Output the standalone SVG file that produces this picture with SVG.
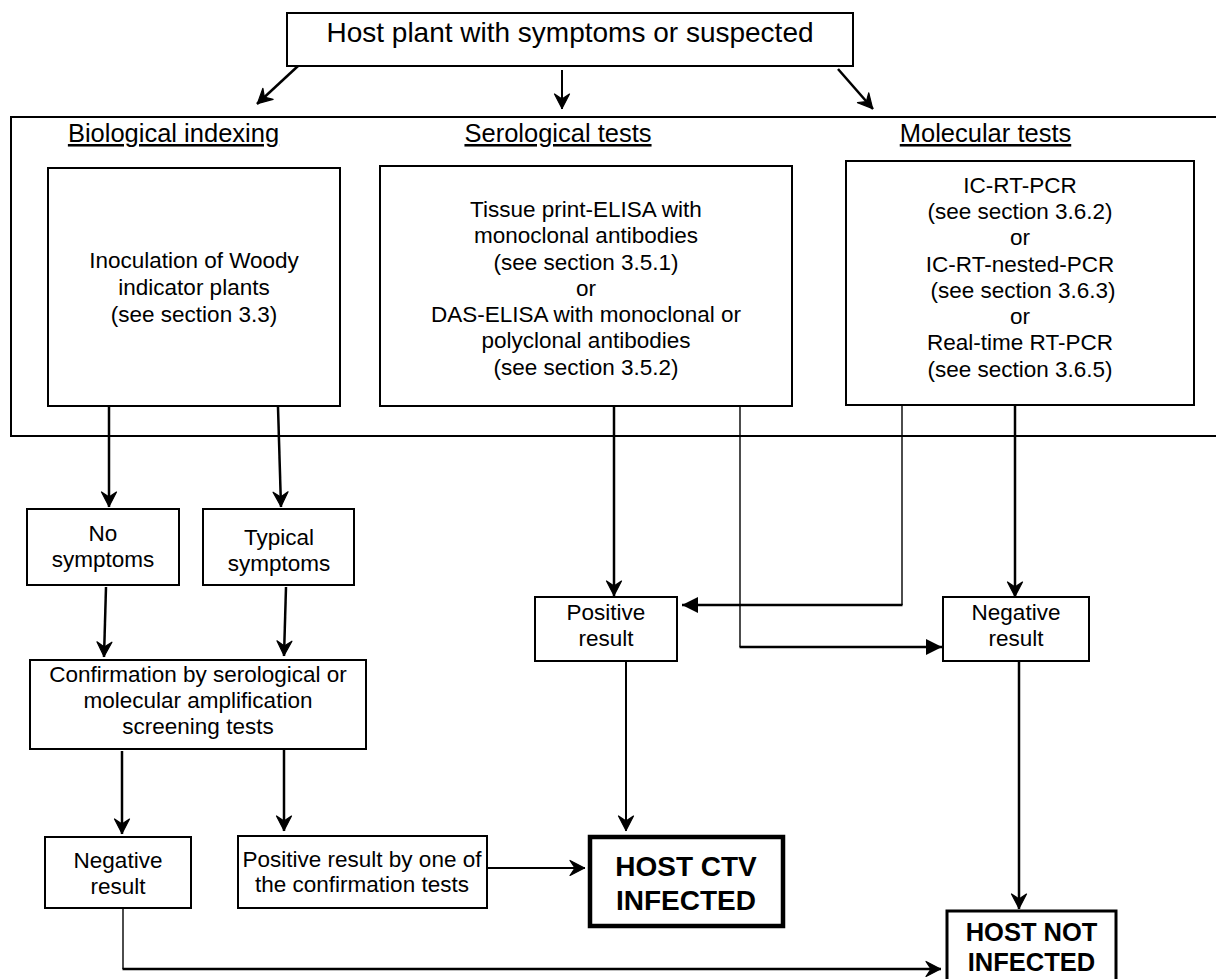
<svg xmlns="http://www.w3.org/2000/svg" width="1216" height="979" viewBox="0 0 1216 979">
<style>
.box{fill:#fff;stroke:#000;stroke-width:2}
.t{font-family:"Liberation Sans",Arial,sans-serif;font-size:22.5px;fill:#000;text-anchor:middle}
.h{font-family:"Liberation Sans",Arial,sans-serif;font-size:25.5px;fill:#000;text-anchor:middle;text-decoration:underline}
.b{font-family:"Liberation Sans",Arial,sans-serif;font-weight:bold;fill:#000;text-anchor:middle}
.c{fill:none;stroke:#000;stroke-width:2.5}
.thin{fill:none;stroke:#000;stroke-width:1.4}
.oa{marker-end:url(#open)}
.sa{marker-end:url(#solid)}
</style>
<defs>
<marker id="open" viewBox="-17 -9 19 18" refX="0" refY="0" markerWidth="19" markerHeight="18" markerUnits="userSpaceOnUse" orient="auto">
<path d="M-0.5,0 L-15,-7.5 L-10,0 L-15,7.5 Z" fill="#000" stroke="#000" stroke-width="1.2" stroke-linejoin="round"/>
</marker>
<marker id="solid" viewBox="-17 -9 18 18" refX="0" refY="0" markerWidth="18" markerHeight="18" markerUnits="userSpaceOnUse" orient="auto">
<path d="M0,0 L-16,-8 L-16,8 Z" fill="#000"/>
</marker>
</defs>
<rect width="1216" height="979" fill="#fff"/>

<g id="container">
<rect x="11" y="117" width="1225" height="319" fill="none" stroke="#000" stroke-width="2"/>
</g>

<g id="connectors">
<line class="c oa" x1="298" y1="66" x2="257" y2="104"/>
<line class="c oa" x1="562" y1="70" x2="562" y2="109" style="stroke-width:2"/>
<line class="c oa" x1="838" y1="69" x2="873" y2="109"/>
<line class="c oa" x1="109" y1="407" x2="109" y2="507"/>
<line class="c oa" x1="278" y1="407" x2="281" y2="507"/>
<line class="c oa" x1="614" y1="407" x2="614" y2="596"/>
<line class="thin" x1="740" y1="407" x2="740" y2="647"/>
<line class="c sa" x1="739.5" y1="647" x2="942" y2="647"/>
<line class="thin" x1="902" y1="406" x2="902" y2="605"/>
<line class="c sa" x1="902.5" y1="605" x2="682" y2="605"/>
<line class="c oa" x1="1015" y1="406" x2="1015" y2="597"/>
<line class="c oa" x1="106" y1="587" x2="104" y2="657"/>
<line class="c oa" x1="286" y1="587" x2="284" y2="656"/>
<line class="c oa" x1="122" y1="751" x2="122" y2="834"/>
<line class="c oa" x1="284" y1="749" x2="284" y2="831"/>
<line class="c oa" x1="488" y1="868" x2="585" y2="868" style="stroke-width:2"/>
<line class="c oa" x1="626" y1="662" x2="626" y2="831" style="stroke-width:2"/>
<line class="c oa" x1="1019" y1="662" x2="1019" y2="909"/>
<line class="thin" x1="123" y1="909" x2="123" y2="969"/>
<line class="c oa" x1="122.5" y1="969" x2="941" y2="969"/>
</g>

<g id="top">
<rect class="box" x="287" y="13" width="566" height="53"/>
<text class="t" x="570" y="42" style="font-size:28px">Host plant with symptoms or suspected</text>
</g>

<g id="headings">
<text class="h" x="173.5" y="142">Biological indexing</text>
<text class="h" x="558" y="142">Serological tests</text>
<text class="h" x="985.5" y="142">Molecular tests</text>
</g>

<g id="inoculation">
<rect class="box" x="48" y="168" width="292" height="238"/>
<text class="t" x="194" y="268">Inoculation of Woody</text>
<text class="t" x="194" y="295">indicator plants</text>
<text class="t" x="194" y="322">(see section 3.3)</text>
</g>

<g id="serological">
<rect class="box" x="380" y="166" width="412" height="240"/>
<text class="t" x="586" y="217">Tissue print-ELISA with</text>
<text class="t" x="586" y="243.3">monoclonal antibodies</text>
<text class="t" x="586" y="269.5">(see section 3.5.1)</text>
<text class="t" x="586" y="295.8">or</text>
<text class="t" x="586" y="322">DAS-ELISA with monoclonal or</text>
<text class="t" x="586" y="348.3">polyclonal antibodies</text>
<text class="t" x="586" y="374.5">(see section 3.5.2)</text>
</g>

<g id="molecular">
<rect class="box" x="846" y="161" width="348" height="244"/>
<text class="t" x="1020" y="192.7">IC-RT-PCR</text>
<text class="t" x="1020" y="219">(see section 3.6.2)</text>
<text class="t" x="1020" y="245.2">or</text>
<text class="t" x="1020" y="271.5">IC-RT-nested-PCR</text>
<text class="t" x="1023" y="297.7">(see section 3.6.3)</text>
<text class="t" x="1020" y="324">or</text>
<text class="t" x="1020" y="350.2">Real-time RT-PCR</text>
<text class="t" x="1020" y="376.5">(see section 3.6.5)</text>
</g>

<g id="no-symptoms">
<rect class="box" x="27" y="509" width="152" height="76"/>
<text class="t" x="103" y="541">No</text>
<text class="t" x="103" y="567">symptoms</text>
</g>

<g id="typical-symptoms">
<rect class="box" x="203" y="509" width="151" height="76"/>
<text class="t" x="279" y="545">Typical</text>
<text class="t" x="279" y="571">symptoms</text>
</g>

<g id="confirmation">
<rect class="box" x="30" y="660" width="336" height="89"/>
<text class="t" x="198" y="681.5">Confirmation by serological or</text>
<text class="t" x="198" y="707.5">molecular amplification</text>
<text class="t" x="198" y="733.5">screening tests</text>
</g>

<g id="negative-left">
<rect class="box" x="45" y="837" width="146" height="71"/>
<text class="t" x="118" y="868">Negative</text>
<text class="t" x="118" y="894">result</text>
</g>

<g id="positive-confirm">
<rect class="box" x="238" y="836" width="249" height="72"/>
<text class="t" x="362" y="867">Positive result by one of</text>
<text class="t" x="362" y="892">the confirmation tests</text>
</g>

<g id="positive-result">
<rect class="box" x="535" y="597" width="142" height="64"/>
<text class="t" x="606" y="620">Positive</text>
<text class="t" x="606" y="646">result</text>
</g>

<g id="negative-right">
<rect class="box" x="943" y="597" width="146" height="64"/>
<text class="t" x="1016" y="620">Negative</text>
<text class="t" x="1016" y="646">result</text>
</g>

<g id="host-ctv-infected">
<rect x="590" y="837" width="193" height="89" fill="#fff" stroke="#000" stroke-width="4.5"/>
<text class="b" x="686" y="876" style="font-size:28px">HOST CTV</text>
<text class="b" x="686" y="910" style="font-size:28px">INFECTED</text>
</g>

<g id="host-not-infected">
<rect x="947" y="911" width="169" height="80" fill="#fff" stroke="#000" stroke-width="3"/>
<text class="b" x="1031.5" y="941" style="font-size:25.5px">HOST NOT</text>
<text class="b" x="1031.5" y="971" style="font-size:25.5px">INFECTED</text>
</g>
</svg>
